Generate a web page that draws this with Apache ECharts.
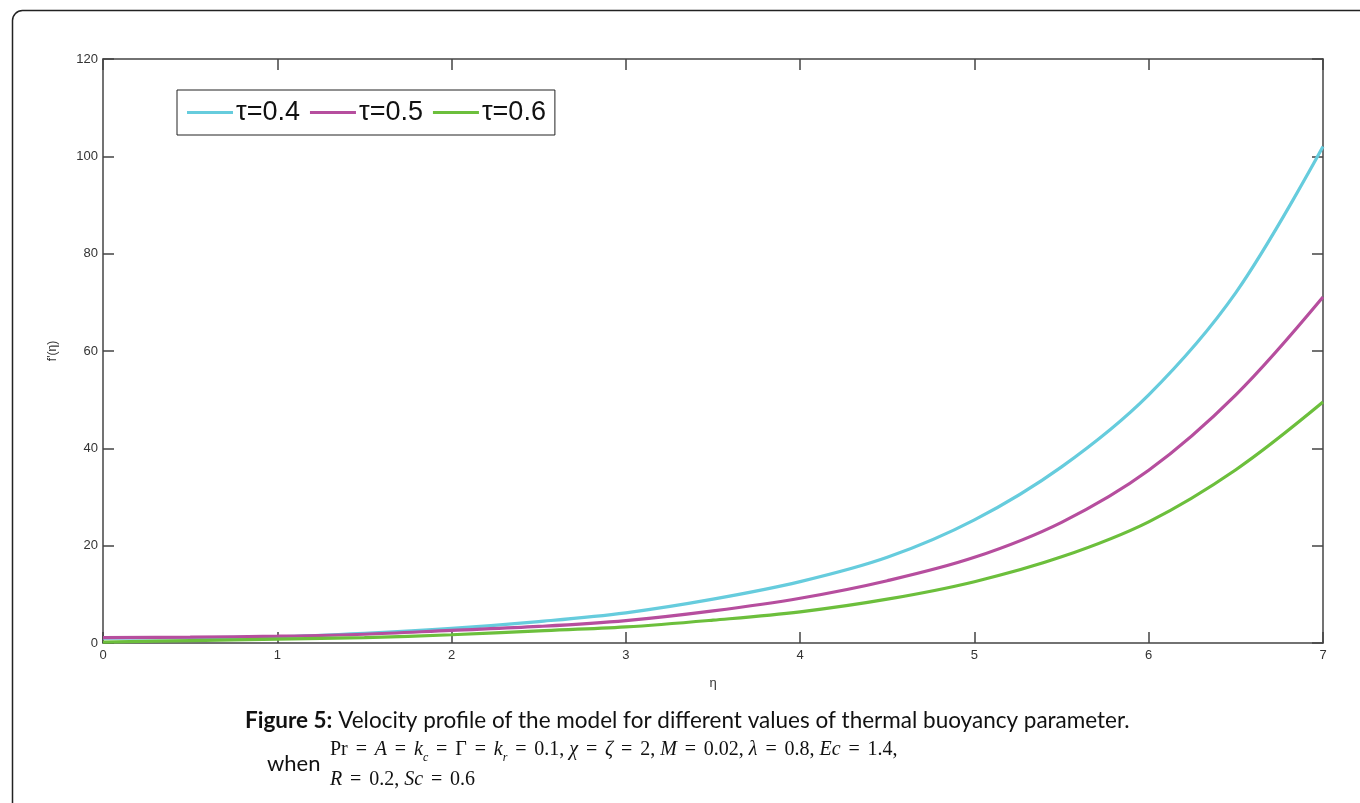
<!DOCTYPE html>
<html>
<head>
<meta charset="utf-8">
<script src="https://cdn.jsdelivr.net/npm/echarts@6/dist/echarts.min.js"></script>
<style>
html,body{margin:0;padding:0;background:#fff;}
#chart{width:1360px;height:803px;}
</style>
</head>
<body>
<div id="chart"></div>
<script>
// ---- data ----
const seriesNames = ['τ=0.4', 'τ=0.5', 'τ=0.6'];
const etaGrid = [0, 0.5, 1, 1.5, 2, 2.5, 3, 3.5, 4, 4.5, 5, 5.5, 6, 6.5, 7];
const valTau04 = [1.0, 1.1, 1.3, 2.0, 3.0, 4.4, 6.2, 9.0, 12.6, 17.6, 25.3, 36.2, 51.0, 72.0, 102.0];
const valTau05 = [1.1, 1.2, 1.4, 1.8, 2.6, 3.4, 4.6, 6.6, 9.2, 12.8, 17.6, 24.8, 35.5, 51.0, 71.1];
const valTau06 = [0.2, 0.5, 0.8, 1.1, 1.7, 2.5, 3.3, 4.7, 6.4, 9.0, 12.6, 17.7, 24.9, 35.6, 49.5];
const xTicks = [0, 1, 2, 3, 4, 5, 6, 7];
const yTicks = [0, 20, 40, 60, 80, 100, 120];
const captionTitle = 'Figure 5:';
const captionText = ' Velocity profile of the model for different values of thermal buoyancy parameter.';

const colors = ['#66CCDD', '#B64E9E', '#6CBF3C'];
const pairs = (xs, ys) => xs.map((x, i) => [x, ys[i]]);

const chart = echarts.init(document.getElementById('chart'));
const axisColor = '#444';
const tickFont = {fontFamily: 'Liberation Sans', fontSize: 13, color: '#333'};

const mathN = {fontFamily: 'Liberation Serif', fontSize: 20, fill: '#111', lineHeight: 24, verticalAlign: 'bottom'};
const mathI = Object.assign({}, mathN, {fontStyle: 'italic'});
const mathE = Object.assign({}, mathN, {width: 27, align: 'center'});
const mathS = Object.assign({}, mathN, {fontStyle: 'italic', fontSize: 12, padding: [0, 0, -4, 0]});

const option = {
  animation: false,
  backgroundColor: '#fff',
  grid: {left: 103, right: 37, top: 59, bottom: 160, containLabel: false},
  legend: {
    data: seriesNames,
    left: 177, top: 90,
    orient: 'horizontal',
    icon: 'rect',
    itemWidth: 46, itemHeight: 3, itemGap: 10,
    borderColor: '#222', borderWidth: 1,
    padding: [9, 9, 9, 10],
    textStyle: {fontFamily: 'Liberation Sans', fontSize: 27, color: '#111', padding: [0, 0, 0, -2]}
  },
  xAxis: [{
    type: 'value', min: xTicks[0], max: xTicks[xTicks.length - 1], interval: 1,
    name: 'η', nameLocation: 'middle', nameGap: 34,
    nameTextStyle: {fontFamily: 'Liberation Sans', fontSize: 13, color: '#333'},
    axisLine: {show: true, lineStyle: {color: axisColor, width: 1.5}},
    axisTick: {show: true, inside: true, length: 11, lineStyle: {color: axisColor, width: 1.5}},
    axisLabel: Object.assign({margin: 6}, tickFont),
    splitLine: {show: false}
  }, {
    type: 'value', position: 'top', min: xTicks[0], max: xTicks[xTicks.length - 1], interval: 1,
    axisLine: {show: true, onZero: false, lineStyle: {color: axisColor, width: 1.5}},
    axisTick: {show: true, inside: true, length: 11, lineStyle: {color: axisColor, width: 1.5}},
    axisLabel: {show: false}, splitLine: {show: false}
  }],
  yAxis: [{
    type: 'value', min: yTicks[0], max: yTicks[yTicks.length - 1], interval: 20,
    name: "f'(η)", nameLocation: 'middle', nameGap: 44, nameRotate: 90,
    nameTextStyle: {fontFamily: 'Liberation Sans', fontSize: 12, color: '#333'},
    axisLine: {show: true, lineStyle: {color: axisColor, width: 1.5}},
    axisTick: {show: true, inside: true, length: 11, lineStyle: {color: axisColor, width: 1.5}},
    axisLabel: Object.assign({margin: 5}, tickFont),
    splitLine: {show: false}
  }, {
    type: 'value', position: 'right', min: yTicks[0], max: yTicks[yTicks.length - 1], interval: 20,
    axisLine: {show: true, onZero: false, lineStyle: {color: axisColor, width: 1.5}},
    axisTick: {show: true, inside: true, length: 11, lineStyle: {color: axisColor, width: 1.5}},
    axisLabel: {show: false}, splitLine: {show: false}
  }],
  series: [
    {name: seriesNames[0], type: 'line', smooth: 0.35, symbol: 'none', data: pairs(etaGrid, valTau04),
     lineStyle: {color: colors[0], width: 3.2}, itemStyle: {color: colors[0]}},
    {name: seriesNames[1], type: 'line', smooth: 0.35, symbol: 'none', data: pairs(etaGrid, valTau05),
     lineStyle: {color: colors[1], width: 3.2}, itemStyle: {color: colors[1]}},
    {name: seriesNames[2], type: 'line', smooth: 0.35, symbol: 'none', data: pairs(etaGrid, valTau06),
     lineStyle: {color: colors[2], width: 3.2}, itemStyle: {color: colors[2]}}
  ],
  graphic: [
    {type: 'rect', left: 10, top: 8, z: -1, silent: true,
     shape: {width: 1400, height: 900, r: 10},
     style: {fill: 'none', stroke: '#222', lineWidth: 1.5}},
    {type: 'text', left: 245, top: 709,
     style: {
       text: '{b|' + captionTitle + '}{n|' + captionText + '}',
       rich: {
         b: {fontFamily: 'Lato', fontWeight: 'bold', fontSize: 22.5, fill: '#111'},
         n: {fontFamily: 'Lato', fontSize: 22.5, fill: '#111'}
       }
     }},
    {type: 'text', left: 267, top: 753,
     style: {text: 'when', fontFamily: 'Lato', fontSize: 22, fill: '#111'}},
    {type: 'text', left: 330, top: 740,
     style: {
       text: '{n|Pr}{e|=}{i|A}{e|=}{i|k}{s|c}{e|=}{n|Γ}{e|=}{i|k}{s|r}{e|=}{n|0.1, }{i|χ}{e|=}{i|ζ}{e|=}{n|2, }{i|M}{e|=}{n|0.02, }{i|λ}{e|=}{n|0.8, }{i|Ec}{e|=}{n|1.4,}',
       rich: {n: mathN, i: mathI, e: mathE, s: mathS}
     }},
    {type: 'text', left: 330, top: 770,
     style: {
       text: '{i|R}{e|=}{n|0.2, }{i|Sc}{e|=}{n|0.6}',
       rich: {n: mathN, i: mathI, e: mathE}
     }}
  ]
};
chart.setOption(option);
</script>
</body>
</html>
